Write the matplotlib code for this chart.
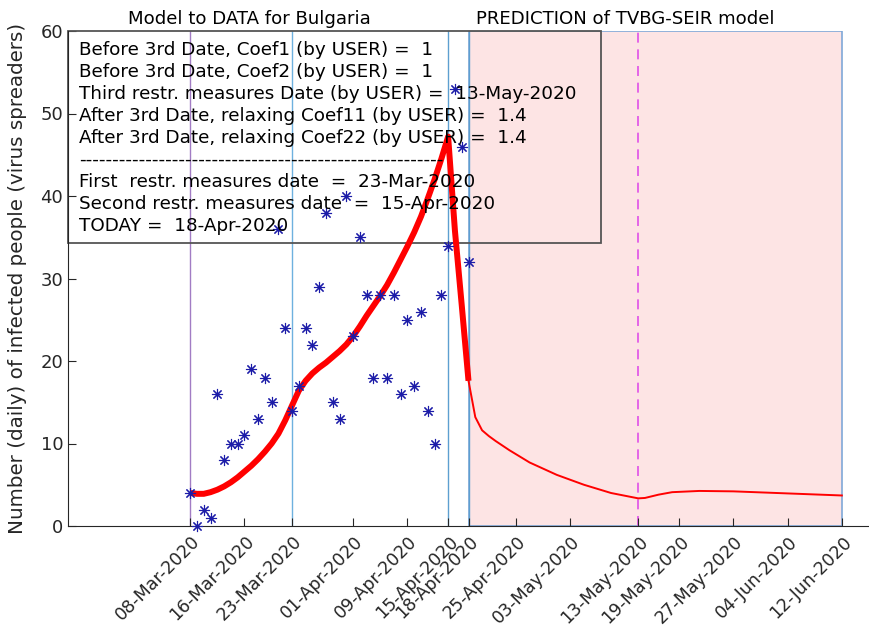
import matplotlib
matplotlib.use('Agg')
import matplotlib.pyplot as plt
import matplotlib.dates as mdates
import matplotlib.transforms as mtransforms
from matplotlib.patches import Rectangle
import numpy as np
import pandas as pd

# daily new cases, 08-Mar-2020 .. 18-Apr-2020
obs_start = '2020-03-08'
observed = [4, 0, 2, 1, 16, 8, 10, 10, 11, 19,
            13, 18, 15, 36, 24, 14, 17, 24, 22, 29,
            38, 15, 13, 40, 23, 35, 28, 18, 28, 18,
            28, 16, 25, 17, 26, 14, 10, 28, 34, 53,
            46, 32]

# fitted model (thick red), same days as observed
model_fit = [4.0, 3.9, 3.9, 4.1, 4.4, 4.8, 5.3, 5.9, 6.6, 7.3,
             8.1, 9.0, 10.0, 11.2, 12.8, 14.6, 16.4, 17.6, 18.5, 19.2,
             19.8, 20.5, 21.2, 22.0, 23.0, 24.2, 25.5, 26.7, 27.9, 29.2,
             30.7, 32.3, 33.9, 35.6, 37.5, 39.7, 42.0, 44.5, 47.2, 35.8,
             26.8, 17.6]

# prediction (thin red)
pred_dates = ['2020-04-18', '2020-04-19', '2020-04-20', '2020-04-21', '2020-04-22',
              '2020-04-24', '2020-04-27', '2020-05-01', '2020-05-05', '2020-05-09',
              '2020-05-13', '2020-05-14', '2020-05-16', '2020-05-18', '2020-05-22',
              '2020-05-27', '2020-06-04', '2020-06-12']
pred_values = [17.6, 13.2, 11.6, 10.9, 10.3,
               9.2, 7.7, 6.2, 5.0, 4.0,
               3.35, 3.4, 3.8, 4.1, 4.25,
               4.2, 3.95, 3.7]

tick_dates = ['2020-03-08', '2020-03-16', '2020-03-23', '2020-04-01', '2020-04-09',
              '2020-04-15', '2020-04-18', '2020-04-25', '2020-05-03', '2020-05-13',
              '2020-05-19', '2020-05-27', '2020-06-04', '2020-06-12']

vline_dates = ['2020-03-08', '2020-03-23', '2020-04-15', '2020-04-18']
vline_colors = ['#a27cc4', '#6eb1df', '#5d9fd0', '#5d9fd0']

pred_start = '2020-04-18'
pred_end = '2020-06-12'
third_date = '2020-05-13'

info_lines = [
    'Before 3rd Date, Coef1 (by USER) =  1',
    'Before 3rd Date, Coef2 (by USER) =  1',
    'Third restr. measures Date (by USER) =  13-May-2020',
    'After 3rd Date, relaxing Coef11 (by USER) =  1.4',
    'After 3rd Date, relaxing Coef22 (by USER) =  1.4',
    '-' * 55,
    'First  restr. measures date  =  23-Mar-2020',
    'Second restr. measures date  =  15-Apr-2020',
    'TODAY =  18-Apr-2020',
]

W, H = 869, 630
fig = plt.figure(figsize=(W / 100, H / 100), dpi=100)
ax = fig.add_axes([68 / W, (H - 526) / H, (W - 68) / W, (526 - 31) / H])

obs_dates = pd.date_range(obs_start, periods=len(observed), freq='D')
d = lambda s: pd.Timestamp(s)

# prediction area
x0 = mdates.date2num(d(pred_start))
x1 = mdates.date2num(d(pred_end))
ax.add_patch(Rectangle((x0, 0), x1 - x0, 60, facecolor='#fde4e4',
                       edgecolor='#7fa8d8', linewidth=1.2, zorder=0))

for vd, vc in zip(vline_dates, vline_colors):
    ax.axvline(d(vd), color=vc, linewidth=1.0, zorder=1)
ax.axvline(d(third_date), color='#e050e8', linewidth=1.2,
           linestyle=(0, (6, 4)), zorder=1)

ax.plot(obs_dates, model_fit, color='red', linewidth=4.3, zorder=3,
        solid_capstyle='butt')
ax.plot(pd.to_datetime(pred_dates), pred_values, color='red', linewidth=1.4, zorder=3)
ax.plot(obs_dates, observed, linestyle='none', marker=(8, 2, 0), markersize=8,
        markeredgewidth=0.8, color='#1c1ca8', zorder=4, clip_on=False)

# info box
ax.add_patch(Rectangle((0, (34.3) / 60), (601 - 68) / (W - 68), 1 - 34.3 / 60,
                       transform=ax.transAxes, facecolor='none',
                       edgecolor='#555555', linewidth=1.3, zorder=2, clip_on=False))
for i, line in enumerate(info_lines):
    ypx = 50 + i * 22
    ax.text((79 - 68) / (W - 68), (526 - ypx) / (526 - 31), line,
            transform=ax.transAxes, fontsize=13.2, va='center', ha='left',
            color='black', zorder=5)

ax.text((249 - 68) / (W - 68), (526 - 19) / (526 - 31), 'Model to DATA for Bulgaria',
        transform=ax.transAxes, fontsize=13.1, ha='center', va='center', color='black')
ax.text((625 - 68) / (W - 68), (526 - 19) / (526 - 31), 'PREDICTION of TVBG-SEIR model',
        transform=ax.transAxes, fontsize=13.1, ha='center', va='center', color='black')

ax.set_xlim(d('2020-02-19'), d('2020-06-16'))
ax.set_ylim(0, 60)
ax.set_yticks(np.arange(0, 61, 10))
ax.set_xticks(pd.to_datetime(tick_dates))
ax.set_xticklabels([])

# rotated date labels, end of text just right of the tick
lab_trans = ax.get_xaxis_transform() + mtransforms.ScaledTranslation(
    7 / 100, -13 / 100, fig.dpi_scale_trans)
for td in pd.to_datetime(tick_dates):
    ax.text(td, 0, td.strftime('%d-%b-%Y'), transform=lab_trans, rotation=45,
            rotation_mode='anchor', ha='right', va='center', fontsize=12.6,
            color='#262626', clip_on=False)

ax.spines['top'].set_visible(False)
ax.spines['right'].set_visible(False)
for sp in ['left', 'bottom']:
    ax.spines[sp].set_color('#262626')
    ax.spines[sp].set_linewidth(0.8)
ax.tick_params(direction='in', length=6, width=0.8, colors='#262626', labelsize=13)
ax.set_ylabel('Number (daily) of infected people (virus spreaders)', fontsize=14.3,
              color='#262626')
ax.yaxis.set_label_coords(-41 / (W - 68), 0.5)

fig.savefig('out.png', dpi=100)
